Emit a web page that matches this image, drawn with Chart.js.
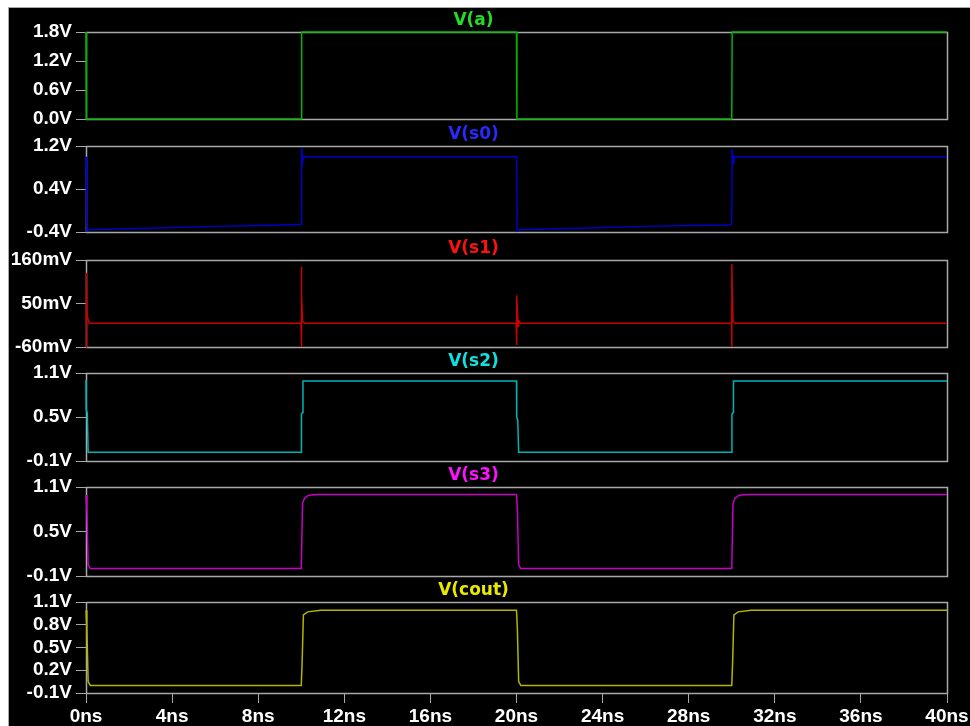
<!DOCTYPE html>
<html>
<head>
<meta charset="utf-8">
<script src="https://cdn.jsdelivr.net/npm/chart.js@4/dist/chart.umd.min.js"></script>
<style>
html,body{margin:0;padding:0;background:#fff;width:970px;height:726px;overflow:hidden;}
#bg{position:absolute;left:8px;top:7px;width:962px;height:719px;background:#000;border-top:1px solid #a8a8a8;border-left:1px solid #a8a8a8;box-sizing:border-box;}
canvas{position:absolute;left:0;}
</style>
</head>
<body>
<div id="bg"></div>
<canvas id="c0"></canvas>
<canvas id="c1"></canvas>
<canvas id="c2"></canvas>
<canvas id="c3"></canvas>
<canvas id="c4"></canvas>
<canvas id="c5"></canvas>
<script>
// ---- data (time in ns) ----
const xTicks = [0,4,8,12,16,20,24,28,32,36,40];
const xTickLabels = ["0ns","4ns","8ns","12ns","16ns","20ns","24ns","28ns","32ns","36ns","40ns"];

const aT = [0, 0.02, 10, 10.02, 20, 20.02, 30, 30.02, 40];
const aV = [1.8, 0, 0, 1.8, 1.8, 0, 0, 1.8, 1.8];
const aTicks = [0, 0.6, 1.2, 1.8];
const aTickLabels = ["0.0V","0.6V","1.2V","1.8V"];

const s0T = [0, 0.04, 0.1, 1, 3, 5.5, 8, 9.9, 10, 10.02, 10.06, 10.1, 20, 20.04, 20.1, 21, 23, 25.5, 28, 29.9, 30, 30.02, 30.06, 30.1, 40];
const s0V = [1.0, -0.38, -0.36, -0.35, -0.33, -0.30, -0.28, -0.26, -0.26, 1.17, 0.9, 1.0, 1.0, -0.38, -0.36, -0.35, -0.33, -0.30, -0.28, -0.27, -0.25, 1.14, 0.88, 1.0, 1.0];
const s0Ticks = [-0.4, 0.4, 1.2];
const s0TickLabels = ["-0.4V","0.4V","1.2V"];

const s1T = [0, 0.005, 0.03, 0.05, 0.15, 9.99, 10.0, 10.01, 10.03, 10.06, 10.15, 19.98, 20.0, 20.02, 20.05, 20.08, 20.12, 20.2, 29.99, 30.0, 30.01, 30.03, 30.06, 30.15, 40];
const s1V = [-60, 128, 108, 20, 0, 0, -60, 143, 75, 5, 0, 0, -55, 71, 25, -10, 5, 0, 0, -60, 150, 70, 5, 0, 0];
const s1Ticks = [-60, 50, 160];
const s1TickLabels = ["-60mV","50mV","160mV"];

const s2T = [0, 0.01, 0.06, 0.1, 10, 10.01, 10.06, 10.08, 20, 20.01, 20.06, 20.1, 30, 30.01, 30.06, 30.08, 40];
const s2V = [1.0, 0.6, 0.55, 0.02, 0.02, 0.54, 0.56, 0.99, 0.99, 0.5, 0.45, 0.02, 0.02, 0.54, 0.56, 0.99, 0.99];
const s2Ticks = [-0.1, 0.5, 1.1];
const s2TickLabels = ["-0.1V","0.5V","1.1V"];

const s3T = [0, 0.04, 0.1, 0.2, 10, 10.06, 10.15, 10.35, 10.7, 20, 20.04, 20.1, 20.2, 30, 30.06, 30.15, 30.35, 30.7, 40];
const s3V = [0.99, 0.8, 0.05, 0.0, 0.0, 0.88, 0.95, 0.99, 1.0, 1.0, 0.8, 0.05, 0.0, 0.0, 0.88, 0.95, 0.99, 1.0, 1.0];
const s3Ticks = [-0.1, 0.5, 1.1];
const s3TickLabels = ["-0.1V","0.5V","1.1V"];

const coutT = [0, 0.04, 0.1, 0.2, 10, 10.04, 10.1, 10.3, 10.9, 20, 20.04, 20.1, 20.2, 30, 30.04, 30.1, 30.3, 30.9, 40];
const coutV = [0.99, 0.75, 0.05, 0.0, 0.0, 0.3, 0.93, 0.97, 0.99, 0.99, 0.75, 0.05, 0.0, 0.0, 0.3, 0.93, 0.97, 0.99, 0.99];
const coutTicks = [-0.1, 0.2, 0.5, 0.8, 1.1];
const coutTickLabels = ["-0.1V","0.2V","0.5V","0.8V","1.1V"];

// ---- panels ----
const panels = [
  {id:"c0", name:"V(a)",    t:aT,    v:aV,    ticks:aTicks,    labels:aTickLabels,    title:"#22dd22", line:"#00b400", top:32,  bottom:119},
  {id:"c1", name:"V(s0)",   t:s0T,   v:s0V,   ticks:s0Ticks,   labels:s0TickLabels,   title:"#2828ff", line:"#0000c8", top:146, bottom:232},
  {id:"c2", name:"V(s1)",   t:s1T,   v:s1V,   ticks:s1Ticks,   labels:s1TickLabels,   title:"#ff1010", line:"#c80000", top:260, bottom:347},
  {id:"c3", name:"V(s2)",   t:s2T,   v:s2V,   ticks:s2Ticks,   labels:s2TickLabels,   title:"#10e0e0", line:"#00b4b4", top:373, bottom:461},
  {id:"c4", name:"V(s3)",   t:s3T,   v:s3V,   ticks:s3Ticks,   labels:s3TickLabels,   title:"#ff10ff", line:"#c800c8", top:487, bottom:576},
  {id:"c5", name:"V(cout)", t:coutT, v:coutV, ticks:coutTicks, labels:coutTickLabels, title:"#e8e800", line:"#b4b400", top:602, bottom:693}
];

const framePlugin = {
  id: "frame",
  beforeDatasetsDraw(chart) {
    const a = chart.chartArea, ctx = chart.ctx;
    ctx.save();
    ctx.strokeStyle = "#a8a8a8";
    ctx.lineWidth = 1.5;
    ctx.strokeRect(Math.round(a.left)+0.5, Math.round(a.top)+0.5, Math.round(a.right-a.left), Math.round(a.bottom-a.top));
    ctx.restore();
  }
};

const TITLE_H = 24;
const tickFont = {family:"'Liberation Sans', Arial, sans-serif", size:19, weight:"bold"};

panels.forEach((p, i) => {
  const isLast = i === panels.length - 1;
  const canvas = document.getElementById(p.id);
  const h = isLast ? (726 - (p.top - TITLE_H)) : (TITLE_H + (p.bottom - p.top) + 14);
  canvas.width = 970; canvas.height = h;
  canvas.style.top = (p.top - TITLE_H) + "px";
  canvas.style.width = "970px"; canvas.style.height = h + "px";
  const pts = p.t.map((t, k) => ({x: t, y: p.v[k]}));
  new Chart(canvas, {
    type: "line",
    data: { datasets: [{ data: pts, borderColor: p.line, borderWidth: 1.5, pointRadius: 0, tension: 0, clip: 4 }] },
    plugins: [framePlugin],
    options: {
      responsive: false, animation: false, events: [],
      layout: { padding: { left: 0, right: 23, top: 0, bottom: isLast ? 0 : 14 } },
      plugins: {
        legend: { display: false }, tooltip: { enabled: false },
        title: { display: true, text: p.name, color: p.title,
                 font: {family:"'DejaVu Sans', sans-serif", size:17, weight:"bold", lineHeight:1},
                 padding: {top:4, bottom:3} }
      },
      scales: {
        x: {
          type: "linear", min: 0, max: 40, display: isLast,
          afterBuildTicks: s => { s.ticks = xTicks.map(v => ({value: v})); },
          afterFit: s => { s.height = isLast ? 33 : 0; s.paddingLeft = 0; s.paddingRight = 0; },
          grid: { display: true, drawOnChartArea: false, drawTicks: true, tickLength: 10, color: "#a8a8a8" },
          border: { display: false },
          ticks: { color: "#ffffff", font: tickFont, padding: 2, maxRotation: 0, autoSkip: false,
                   callback: (v, k) => xTickLabels[k] }
        },
        y: {
          type: "linear", min: p.ticks[0], max: p.ticks[p.ticks.length-1],
          afterBuildTicks: s => { s.ticks = p.ticks.map(v => ({value: v})); },
          afterFit: s => { s.width = 86; s.paddingTop = 0; s.paddingBottom = 0; },
          grid: { display: true, drawOnChartArea: false, drawTicks: true, tickLength: 10, color: "#a8a8a8" },
          border: { display: false },
          ticks: { color: "#ffffff", font: tickFont, padding: 4, autoSkip: false,
                   callback: (v, k) => p.labels[k] }
        }
      }
    }
  });
});
</script>
</body>
</html>
